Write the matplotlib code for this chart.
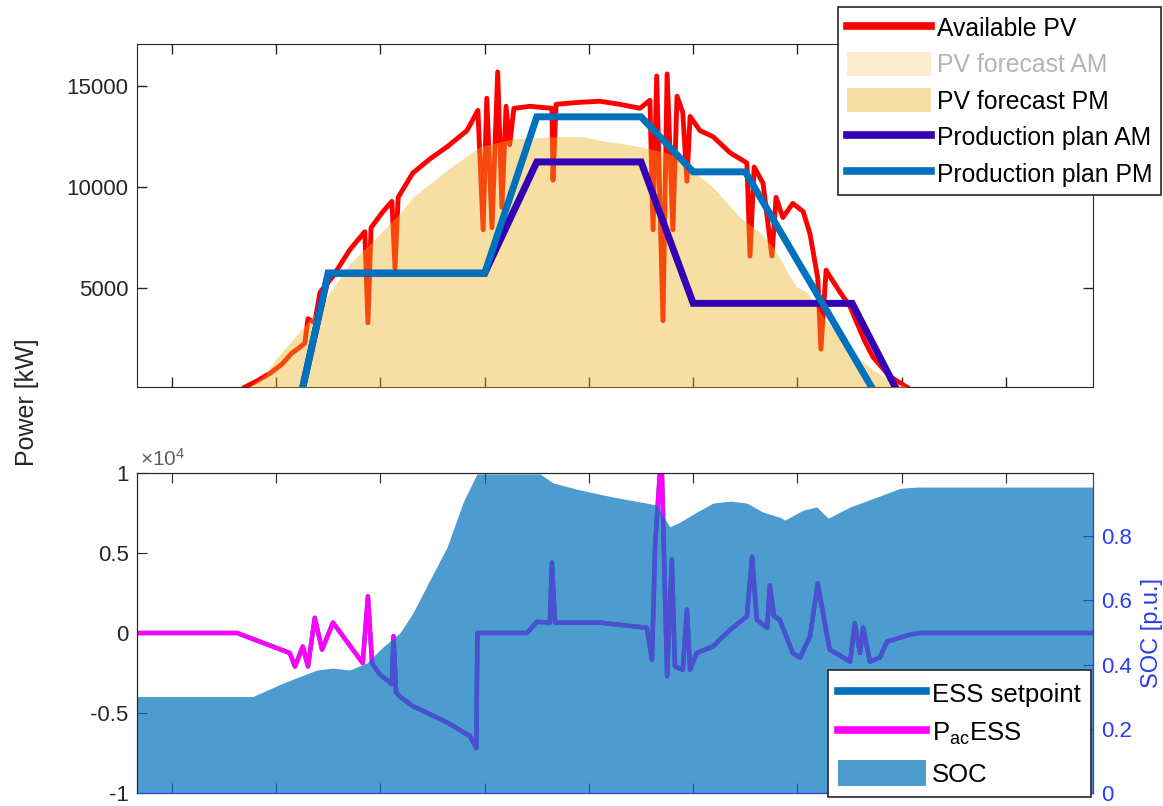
import matplotlib.pyplot as plt
from matplotlib.patches import Patch
from matplotlib.lines import Line2D

plt.rcParams['font.family'] = ['Liberation Sans', 'DejaVu Sans']
plt.rcParams['mathtext.fontset'] = 'custom'
plt.rcParams['mathtext.rm'] = 'Liberation Sans'
plt.rcParams['mathtext.it'] = 'Liberation Sans'

# --- PV side (time in hours) ---
pv_t = [5.40, 5.65, 5.88, 6.11, 6.30, 6.46, 6.55, 6.61, 6.74, 6.84, 7.09, 7.41, 7.70, 7.76, 7.82,
        8.05, 8.22, 8.28, 8.34, 8.62, 8.95, 9.28, 9.66, 9.87, 9.97, 10.04, 10.14, 10.25, 10.33,
        10.41, 10.48, 10.56, 10.87, 11.29, 11.31, 11.37, 11.83, 12.21, 12.59, 12.98, 13.17, 13.23,
        13.30, 13.42, 13.50, 13.61, 13.69, 13.80, 13.88, 13.94, 14.13, 14.38, 14.71, 15.03, 15.09,
        15.17, 15.34, 15.51, 15.59, 15.72, 15.91, 16.11, 16.24, 16.39, 16.45, 16.55, 16.62, 16.82,
        17.01, 17.14, 17.29, 17.45, 17.77, 18.10]
pv_available = [120, 450, 800, 1250, 1800, 2100, 2300, 3500, 3300, 4800, 5600, 6900, 7800, 3300, 8000,
                8800, 9300, 6000, 9500, 10700, 11400, 12000, 12800, 13800, 7900, 14400, 8000, 15700, 9000,
                14000, 12100, 13900, 14000, 13900, 10350, 14100, 14200, 14250, 14100, 13900, 14300, 7900,
                15500, 3400, 15600, 7900, 14500, 13700, 10300, 13500, 12800, 12500, 11700, 11200, 6600,
                11000, 10200, 6600, 9500, 8500, 9200, 8800, 7700, 5500, 2000, 5900, 5600, 4800,
                4100, 3300, 2400, 1600, 650, 120]

fc_t = [5.40, 5.78, 5.98, 6.46, 6.80, 7.09, 7.41, 7.74, 8.05, 8.37, 8.62, 9.28, 9.91, 10.54, 11.44,
        11.88, 12.35, 12.59, 12.98, 13.50, 13.75, 14.38, 14.90, 15.28, 15.53, 15.72, 15.86, 15.99,
        16.18, 16.49, 16.82, 17.14, 17.45, 17.77, 18.22]
pv_forecast_pm = [0, 700, 1460, 2900, 3930, 5000, 6200, 7050, 7850, 8700, 9500, 10850, 12000, 12400, 12500,
                  12500, 12250, 12180, 12000, 11700, 11340, 10000, 8500, 7750, 7050, 6250, 5550, 5070,
                  4820, 3600, 2600, 1620, 970, 470, 0]

plan_am_t = [6.5, 7, 10, 11, 13, 14, 17.05, 17.9]
plan_am = [0, 5750, 5750, 11250, 11250, 4260, 4260, 0]
plan_pm_t = [6.5, 7, 10, 11, 13, 14, 15, 17.45]
plan_pm = [0, 5750, 5750, 13480, 13480, 10760, 10760, 0]

# --- storage side ---
ess_t = [3.33, 5.25, 6.26, 6.36, 6.51, 6.61, 6.74, 6.88, 7.09, 7.66, 7.76, 7.84, 7.99, 8.22, 8.25,
         8.30, 8.37, 8.62, 9.28, 9.72, 9.84, 9.86, 10.81, 11.00, 11.25, 11.29, 11.35, 12.21, 13.11,
         13.21, 13.27, 13.36, 13.40, 13.50, 13.59, 13.65, 13.80, 13.88, 13.94, 14.07, 14.38, 14.71,
         15.03, 15.13, 15.22, 15.42, 15.47, 15.55, 15.66, 15.91, 16.05, 16.24, 16.39, 16.57, 16.62,
         17.01, 17.10, 17.20, 17.26, 17.39, 17.58, 17.72, 18.16, 18.35, 21.67]
p_ac_ess = [0, 0, -1250, -2100, -850, -2100, 950, -1040, 650, -1880, 2300, -1900, -2600, -3200, -200,
            -3700, -3960, -4580, -5600, -6460, -7200, 0, 0, 700, 650, 4400, 650, 650, 330,
            -1670, 5500, 10000, 10000, -2700, 4600, -2100, -2300, 1460, -2300, -1250, -830, 200,
            1040, 4770, 830, 330, 3000, 1040, 830, -1250, -1540, -210, 3100, -210, -1040,
            -1790, 600, -1250, 330, -1790, -1540, -540, -100, 0, 0]
# the converter follows its setpoint, so both traces share the same samples
ess_setpoint = p_ac_ess

soc_t = [3.33, 5.55, 6.13, 6.78, 7.09, 7.41, 7.74, 8.05, 8.37, 8.62, 8.95, 9.28, 9.58, 9.85, 11.06,
         11.31, 11.83, 12.46, 13.30, 13.55, 13.75, 14.07, 14.38, 14.71, 15.03, 15.34, 15.66, 15.76,
         16.11, 16.37, 16.59, 17.01, 17.53, 17.97, 18.29, 21.67]
soc = [0.30, 0.30, 0.342, 0.383, 0.389, 0.383, 0.405, 0.455, 0.498, 0.56, 0.664, 0.767, 0.904, 0.995, 0.995,
       0.967, 0.945, 0.923, 0.898, 0.83, 0.845, 0.876, 0.904, 0.91, 0.904, 0.876, 0.86, 0.851,
       0.882, 0.892, 0.857, 0.892, 0.923, 0.950, 0.954, 0.954]

hour_ticks = [4, 6, 8, 10, 12, 14, 16, 18, 20]

W, H = 1163, 806
ink = '#262626'
soc_blue = '#2b3cf0'
fig = plt.figure(figsize=(W / 100, H / 100), dpi=100)

# top panel: PV availability, forecast and production plans
ax1 = fig.add_axes([137 / W, 1 - 387 / H, 956 / W, 343 / H])
ax1.plot(pv_t, pv_available, color='#FF0000', lw=3.5, zorder=2)
ax1.fill_between(fc_t, pv_forecast_pm, color='#EDB120', alpha=0.41, lw=0, zorder=3)
ax1.plot(plan_am_t, plan_am, color='#3300B3', lw=5, zorder=4, solid_joinstyle='miter')
ax1.plot(plan_pm_t, plan_pm, color='#0072BD', lw=5, zorder=5, solid_joinstyle='miter')
ax1.set_xlim(3.33, 21.67)
ax1.set_ylim(125, 17080)
ax1.set_xticks(hour_ticks)
ax1.set_xticklabels([])
ax1.set_yticks([5000, 10000, 15000])
ax1.tick_params(direction='in', top=True, right=True, length=7, width=1,
                labelsize=16, pad=6, colors=ink)
for s in ax1.spines.values():
    s.set_color(ink)

top_handles = [
    Line2D([], [], color='#FF0000', lw=5.5),
    Patch(facecolor='#EDB120', alpha=0.22, edgecolor='none'),
    Patch(facecolor='#EDB120', alpha=0.41, edgecolor='none'),
    Line2D([], [], color='#3300B3', lw=5.5),
    Line2D([], [], color='#0072BD', lw=5.5),
]
top_labels = ['Available PV', 'PV forecast AM', 'PV forecast PM',
              'Production plan AM', 'Production plan PM']
leg1 = fig.legend(top_handles, top_labels, loc='upper left',
                  bbox_to_anchor=(838 / W, 1 - 7 / H), bbox_transform=fig.transFigure,
                  fontsize=17.8, handlelength=3.4, handleheight=1.1, handletextpad=0.25,
                  labelspacing=0.45, borderpad=0.35, borderaxespad=0, fancybox=False,
                  framealpha=1, edgecolor=ink)
leg1.get_frame().set_linewidth(1.2)
leg1.get_texts()[1].set_color('#b4b4b4')

# bottom panel: storage power and state of charge
ax2 = fig.add_axes([137 / W, 1 - 792.7 / H, 956 / W, 319.4 / H])
ax2.plot(ess_t, ess_setpoint, color='#0072BD', lw=3.2)
ax2.plot(ess_t, p_ac_ess, color='#FF00FF', lw=3.2)
ax2.set_xlim(3.33, 21.67)
ax2.set_ylim(-10000, 10000)
ax2.set_xticks(hour_ticks)
ax2.set_xticklabels([])
ax2.set_yticks([-10000, -5000, 0, 5000, 10000])
ax2.set_yticklabels(['-1', '-0.5', '0', '0.5', '1'])
ax2.text(0.003, 1.012, r'$\times 10^{4}$', transform=ax2.transAxes, ha='left', va='bottom',
         fontsize=15, color='#606060')

ax3 = ax2.twinx()
ax3.fill_between(soc_t, soc, color='#0072BD', alpha=0.7, lw=0)
ax3.set_ylim(0, 0.997)
ax3.set_yticks([0, 0.2, 0.4, 0.6, 0.8])
ax3.set_yticklabels(['0', '0.2', '0.4', '0.6', '0.8'])

ax2.tick_params(axis='x', direction='in', top=True, bottom=True, length=7, colors=ink)
ax2.tick_params(axis='y', direction='in', left=True, right=False, length=7,
                labelsize=16, pad=6, colors=ink)
ax3.tick_params(axis='y', direction='in', right=True, left=False, length=7,
                labelsize=16, pad=6, colors=soc_blue)
for s in ax2.spines.values():
    s.set_color(ink)
ax3.spines['left'].set_color(ink)
ax3.spines['top'].set_color(ink)
ax3.spines['right'].set_color(soc_blue)
ax3.spines['bottom'].set_color(soc_blue)

bot_handles = [
    Line2D([], [], color='#0072BD', lw=5.5),
    Line2D([], [], color='#FF00FF', lw=5.5),
    Patch(facecolor='#0072BD', alpha=0.7, edgecolor='none'),
]
bot_labels = ['ESS setpoint', r'P$_{\mathregular{ac}}$ESS', 'SOC']
leg2 = fig.legend(bot_handles, bot_labels, loc='upper left',
                  bbox_to_anchor=(828 / W, 1 - 670 / H), bbox_transform=fig.transFigure,
                  fontsize=18.5, handlelength=3.4, handleheight=1.15, handletextpad=0.25,
                  labelspacing=0.5, borderpad=0.4, borderaxespad=0, fancybox=False,
                  framealpha=1, edgecolor=ink)
leg2.get_frame().set_linewidth(1.2)

fig.text(27 / W, 1 - 402 / H, 'Power [kW]', rotation=90, ha='center', va='center',
         fontsize=18, color=ink)
fig.text(1.0, 1 - 633 / H, 'SOC [p.u.]', rotation=90, ha='right', va='center',
         fontsize=17, color=soc_blue)

fig.savefig('out.png', dpi=100)
